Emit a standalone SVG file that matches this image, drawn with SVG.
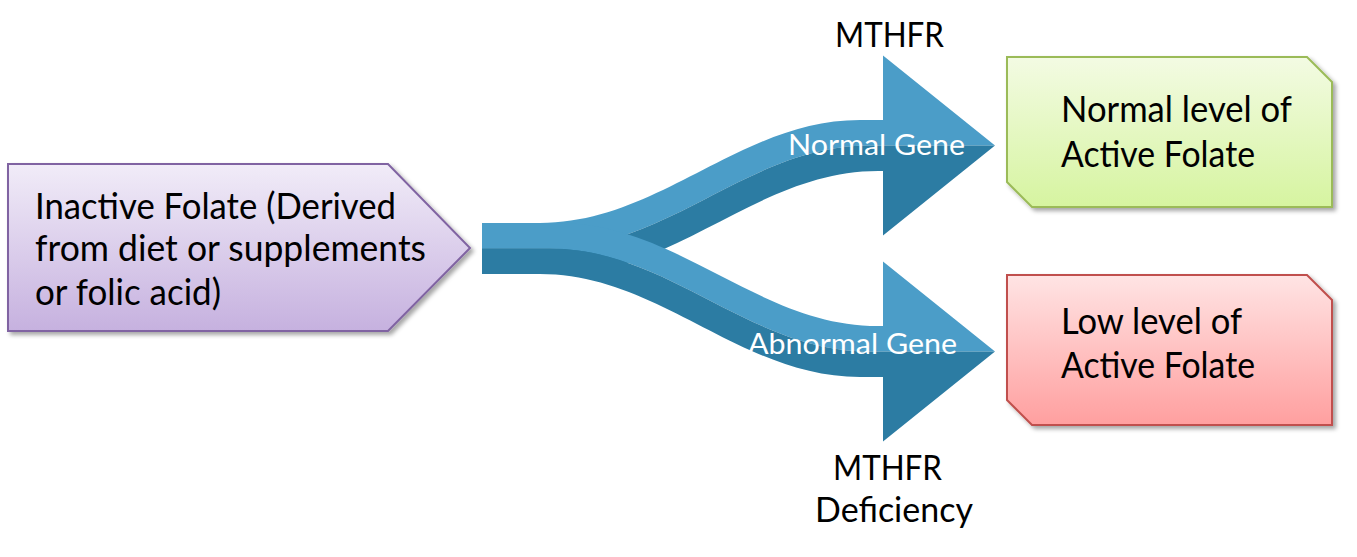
<svg xmlns="http://www.w3.org/2000/svg" width="1357" height="557" viewBox="0 0 1357 557">
  <defs>
    <linearGradient id="gPurple" x1="0" y1="0" x2="0" y2="1">
      <stop offset="0" stop-color="#f1ecf8"/>
      <stop offset="1" stop-color="#c6b1df"/>
    </linearGradient>
    <linearGradient id="gGreen" x1="0" y1="0" x2="0" y2="1">
      <stop offset="0" stop-color="#f3fbe3"/>
      <stop offset="1" stop-color="#d6f4a0"/>
    </linearGradient>
    <linearGradient id="gRed" x1="0" y1="0" x2="0" y2="1">
      <stop offset="0" stop-color="#ffe4e4"/>
      <stop offset="1" stop-color="#ff9f9f"/>
    </linearGradient>
    <filter id="shadow" x="-10%" y="-10%" width="125%" height="130%">
      <feDropShadow dx="3" dy="3" stdDeviation="2" flood-color="#000" flood-opacity="0.35"/>
    </filter>
  </defs>
  <style>
    .box { stroke-width: 2; stroke-linejoin: miter; filter: url(#shadow); }
    .t { font-family: Lato, "Open Sans", "Liberation Sans", sans-serif; fill: #000; }
    .lbl { font-size: 36px; }
    .gene { font-family: Lato, "Open Sans", "Liberation Sans", sans-serif; font-size: 28px; fill: #fff; }
    .cap { font-size: 34px; }
    .light { fill: #4b9dc8; }
    .dark { fill: #2c7ca3; }
  </style>

  <rect width="1357" height="557" fill="#fff"/>

  <!-- diverging flow arrows -->
  <g id="connectors">
    <!-- upper branch -->
    <path class="light" d="M482,223 H540 C660,223 740,120 860,120 H883 V55.5 L995,145.5 H869 C749,145.5 669,248.5 549,248.5 H482 Z"/>
    <path class="dark" d="M482,248.5 H549 C669,248.5 749,145.5 869,145.5 H995 L883,235.5 V171 H878 C758,171 678,274 558,274 H482 Z"/>
    <!-- lower branch -->
    <path class="light" d="M482,223 H558 C678,223 758,326 878,326 H883 V261.5 L995,351.5 H869 C749,351.5 669,248.5 549,248.5 H482 Z"/>
    <path class="dark" d="M482,248.5 H549 C669,248.5 749,351.5 869,351.5 H995 L883,441.5 V377 H860 C740,377 660,274 540,274 H482 Z"/>
    <text class="gene" x="788" y="155" textLength="177" lengthAdjust="spacingAndGlyphs">Normal Gene</text>
    <text class="gene" x="748" y="354" textLength="209" lengthAdjust="spacingAndGlyphs">Abnormal Gene</text>
    <text class="t cap" x="835" y="46.5" textLength="109" lengthAdjust="spacingAndGlyphs">MTHFR</text>
    <text class="t cap" x="833" y="479.5" textLength="109" lengthAdjust="spacingAndGlyphs">MTHFR</text>
    <text class="t cap" x="815" y="521.5" textLength="158" lengthAdjust="spacingAndGlyphs">Deficiency</text>
  </g>

  <!-- source node -->
  <g id="inactive-folate">
    <polygon class="box" points="8,164 388,164 470,248 388,331 8,331" fill="url(#gPurple)" stroke="#8064a2"/>
    <text class="t lbl" x="35" y="219" textLength="361" lengthAdjust="spacingAndGlyphs">Inactive Folate (Derived</text>
    <text class="t lbl" x="35" y="261" textLength="391" lengthAdjust="spacingAndGlyphs">from diet or supplements</text>
    <text class="t lbl" x="35" y="305" textLength="186" lengthAdjust="spacingAndGlyphs">or folic acid)</text>
  </g>

  <!-- outcome: normal gene -->
  <g id="normal-level">
    <polygon class="box" points="1007,57 1307,57 1332,82 1332,207 1032,207 1007,182" fill="url(#gGreen)" stroke="#9bbb59"/>
    <text class="t lbl" x="1061" y="122" textLength="231" lengthAdjust="spacingAndGlyphs">Normal level of</text>
    <text class="t lbl" x="1061" y="167" textLength="194" lengthAdjust="spacingAndGlyphs">Active Folate</text>
  </g>

  <!-- outcome: abnormal gene -->
  <g id="low-level">
    <polygon class="box" points="1007,275 1307,275 1332,300 1332,425 1032,425 1007,400" fill="url(#gRed)" stroke="#c0504d"/>
    <text class="t lbl" x="1061" y="334" textLength="181" lengthAdjust="spacingAndGlyphs">Low level of</text>
    <text class="t lbl" x="1061" y="378" textLength="194" lengthAdjust="spacingAndGlyphs">Active Folate</text>
  </g>
</svg>
